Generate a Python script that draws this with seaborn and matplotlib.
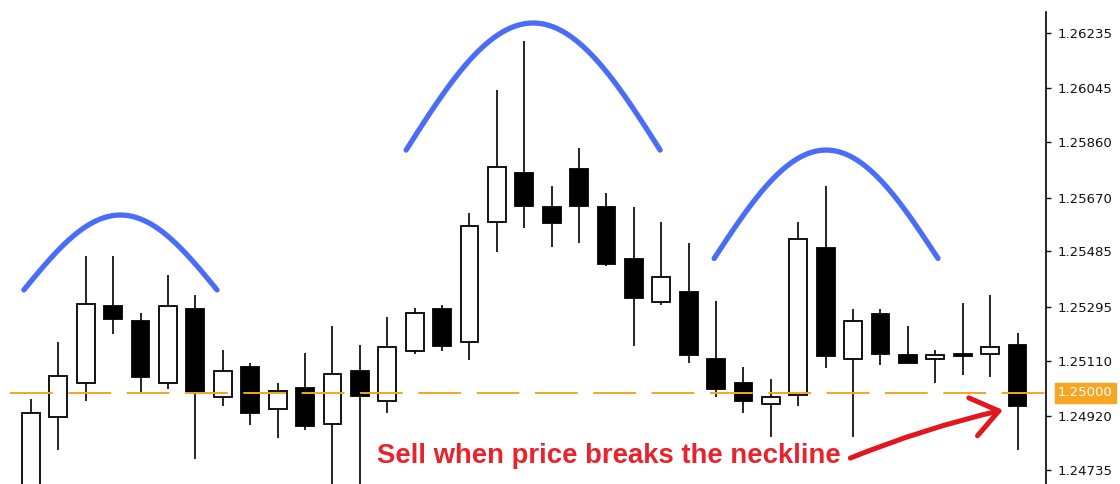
import numpy as np
import matplotlib
matplotlib.use("Agg")
import matplotlib.pyplot as plt
import seaborn as sns

# OHLC (37 candles, left to right)
opens = [1.24632, 1.24917, 1.25034, 1.25298, 1.25246, 1.25034, 1.25288, 1.24986, 1.25089, 1.24944,
         1.25016, 1.24893, 1.25075, 1.24972, 1.25143, 1.25288, 1.25174, 1.25586, 1.25754, 1.25638,
         1.25768, 1.25638, 1.25459, 1.25312, 1.25346, 1.25116, 1.25034, 1.24962, 1.24992, 1.25497,
         1.25116, 1.25270, 1.25130, 1.25116, 1.25133, 1.25133, 1.25164]
highs = [1.24979, 1.25174, 1.25470, 1.25470, 1.25274, 1.25404, 1.25336, 1.25147, 1.25102, 1.25034,
         1.25137, 1.25229, 1.25164, 1.25260, 1.25291, 1.25301, 1.25617, 1.26039, 1.26208, 1.25710,
         1.25840, 1.25686, 1.25638, 1.25586, 1.25514, 1.25315, 1.25089, 1.25047, 1.25586, 1.25710,
         1.25288, 1.25288, 1.25229, 1.25147, 1.25308, 1.25336, 1.25205]
lows = [1.24598, 1.24804, 1.24972, 1.25202, 1.25003, 1.25013, 1.24773, 1.24955, 1.24890, 1.24845,
        1.24872, 1.24649, 1.24632, 1.24931, 1.25133, 1.25143, 1.25113, 1.25483, 1.25566, 1.25500,
        1.25514, 1.25435, 1.25161, 1.25301, 1.25102, 1.24986, 1.24931, 1.24848, 1.24955, 1.25085,
        1.24848, 1.25095, 1.25102, 1.25034, 1.25061, 1.25054, 1.24804]
closes = [1.24931, 1.25058, 1.25305, 1.25253, 1.25054, 1.25298, 1.25003, 1.25075, 1.24931, 1.25006,
          1.24886, 1.25065, 1.24989, 1.25157, 1.25274, 1.25161, 1.25573, 1.25775, 1.25641, 1.25583,
          1.25641, 1.25442, 1.25325, 1.25397, 1.25130, 1.25013, 1.24972, 1.24986, 1.25528, 1.25126,
          1.25246, 1.25133, 1.25102, 1.25130, 1.25126, 1.25157, 1.24955]

price_ticks = [1.26235, 1.26045, 1.25860, 1.25670, 1.25485, 1.25295, 1.25110, 1.24920, 1.24735]
neckline = 1.25000

# shoulders / head outlines (start idx, end idx, base price, top price)
arc_start = [-0.26, 13.69, 24.93]
arc_end = [6.79, 22.96, 33.10]
arc_base = [1.25353, 1.25833, 1.25461]
arc_peak = [1.25610, 1.26269, 1.25833]

note_text = "Sell when price breaks the neckline"

sns.set_theme(style="white")
plt.rcParams['font.family'] = ['DejaVu Sans']

fig = plt.figure(figsize=(11.2, 4.84), dpi=100)
ax = fig.add_axes([0, 0, 1046 / 1120, 1])

x = np.arange(len(opens))
o = np.array(opens)
c = np.array(closes)
up = c >= o
body_lo = np.minimum(o, c)
body_h = np.abs(c - o)

ax.vlines(x, lows, highs, color="black", linewidth=1.2, zorder=2)
ax.bar(x, body_h, bottom=body_lo, width=0.65,
       color=np.where(up, "white", "black"), edgecolor="black", linewidth=1.3, zorder=3)

# neckline
ax.axhline(neckline, xmin=10 / 1046, color="#f5a623", linewidth=1.4,
           dashes=(22, 8), zorder=4)

# blue bells
for x0, x1, b, p in zip(arc_start, arc_end, arc_base, arc_peak):
    t = np.linspace(-np.pi / 2, np.pi / 2, 120)
    xs = x0 + (t + np.pi / 2) / np.pi * (x1 - x0)
    ys = b + (p - b) * np.cos(t)
    sns.lineplot(x=xs, y=ys, ax=ax, color="#4a6cf7", linewidth=3.8,
                 solid_capstyle="round", zorder=5, sort=False)

# red note + arrow
ax.annotate("", xy=(35.47, 1.24941), xytext=(29.9, 1.24776),
            arrowprops=dict(arrowstyle="->,head_length=0.95,head_width=0.7",
                            mutation_scale=20, color="#e3161e", linewidth=3.6,
                            connectionstyle="arc3,rad=-0.04", shrinkA=0, shrinkB=0),
            zorder=6)
ax.text(12.63, 1.24759, note_text, ha="left", va="baseline", color="#e8232b",
        fontsize=19.8, fontweight="bold",
        family=["Liberation Sans", "DejaVu Sans"], zorder=6)

ax.set_xlim(-1.13, 37.04)
ax.set_ylim(1.24687, 1.26348)
ax.set_xticks([])
ax.yaxis.tick_right()
ax.set_yticks(price_ticks)
ax.set_yticklabels([f"{t:.5f}" for t in price_ticks])
ax.tick_params(axis="y", direction="out", length=3.5, width=1, pad=5,
               labelsize=9.5, colors="#111111", right=True)
for side in ["left", "top", "bottom"]:
    ax.spines[side].set_visible(False)
ax.spines["right"].set_color("black")
ax.spines["right"].set_linewidth(1.2)
ax.spines["right"].set_bounds(1.24687, 1.26307)
ax.grid(False)

# current level tag on the price scale
ax.annotate(f"{neckline:.5f}", xy=(1, neckline), xycoords=("axes fraction", "data"),
            xytext=(8.5, 0), textcoords="offset points", ha="left", va="center",
            fontsize=9.5, color="white",
            bbox=dict(boxstyle="square,pad=0.25", facecolor="#f5a623", edgecolor="#f5a623"),
            annotation_clip=False)

fig.savefig("out.png", dpi=100, facecolor="white")
